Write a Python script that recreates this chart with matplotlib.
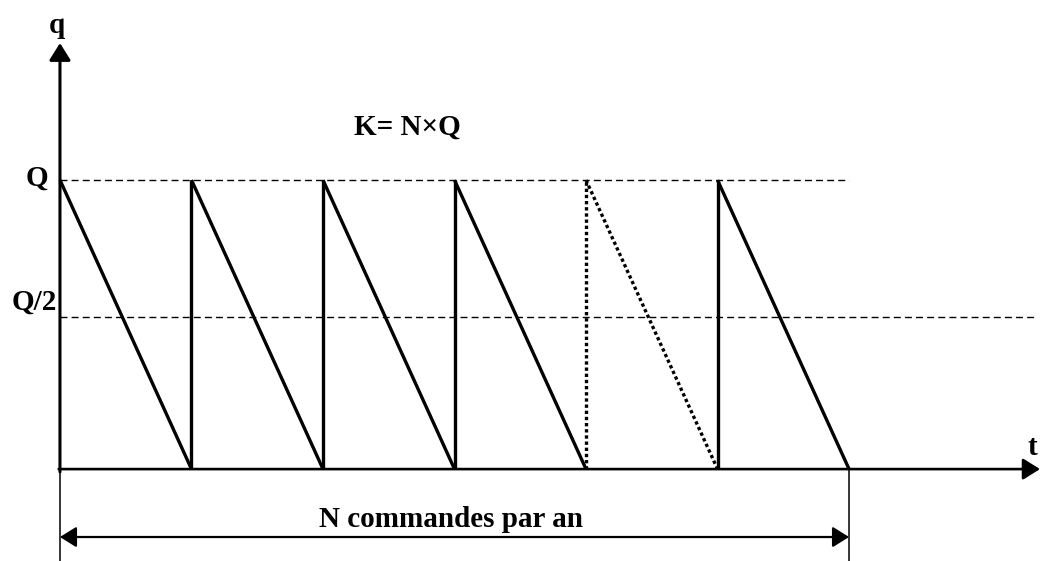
import matplotlib
matplotlib.use("Agg")
import matplotlib.pyplot as plt

# inventory cycle data (time in cycles, stock in units of Q)
order_times = [0, 1, 2, 3, 4, 5]  # start of each order cycle
period_end = 6  # end of the N orders
Q = 1.0
half_level = 0.525  # where the Q/2 line sits in the drawing
dotted_cycle = 4  # the cycle drawn with a dotted line

y_labels = ["Q", "Q/2"]
title_text = "K= N\u00d7Q"
span_text = "N commandes par an"

plt.rcParams["font.family"] = ["Liberation Serif", "DejaVu Serif"]
plt.rcParams["font.weight"] = "bold"

fig = plt.figure(figsize=(10.4, 5.61), dpi=100)
ax = fig.add_axes([0, 0, 1, 1])
ax.set_xlim(-0.456, 7.452)
ax.set_ylim(-0.318, 1.623)
ax.axis("off")

lw_saw = 2.4
dash = (0, (5, 3))
dot = (0, (1, 0.85))

# reference levels
ax.plot([0, period_end], [Q, Q], color="black", lw=1.0, ls=dash)
ax.plot([0, 7.41], [half_level, half_level], color="black", lw=1.0, ls=dash)

# sawtooth
for i, t in enumerate(order_times):
    style = dot if i == dotted_cycle else "-"
    t_next = order_times[i + 1] if i + 1 < len(order_times) else period_end
    if i > 0:
        ax.plot([t, t], [0, Q], color="black", lw=lw_saw, ls=style,
                solid_capstyle="butt")
    ax.plot([t, t_next], [Q, 0], color="black", lw=lw_saw, ls=style,
            solid_capstyle="butt")

# axes with arrows
arrow = dict(arrowstyle="-|>,head_length=0.4,head_width=0.25", color="black",
             lw=2.2, shrinkA=0, shrinkB=0, mutation_scale=26)
ax.annotate("", xy=(0, 1.474), xytext=(0, -0.01), arrowprops=arrow)
arrow_x = dict(arrow, lw=1.9)
ax.annotate("", xy=(7.452, 0), xytext=(-0.01, 0), arrowprops=arrow_x)

# span of the N orders
ax.plot([0, 0], [0, -0.318], color="black", lw=1.1)
ax.plot([period_end, period_end], [0, -0.318], color="black", lw=1.1)
span = dict(arrowstyle="<|-|>,head_length=0.4,head_width=0.25", color="black",
            lw=1.6, shrinkA=0, shrinkB=0, mutation_scale=25)
ax.annotate("", xy=(0, -0.235), xytext=(period_end, -0.235), arrowprops=span)

fs = 21
ax.text(2.97, -0.175, span_text, ha="center", va="center",
        fontsize=fs, fontweight="bold")
ax.text(2.64, 1.183, title_text, ha="center", va="center", fontsize=fs,
        fontweight="bold")
ax.text(-0.175, Q + 0.007, y_labels[0], ha="center", va="center",
        fontsize=fs, fontweight="bold")
ax.text(-0.02, half_level + 0.005, y_labels[1], ha="right", va="bottom",
        fontsize=fs, fontweight="bold")
ax.text(-0.023, 1.536, "q", ha="center", va="center", fontsize=fs,
        fontweight="bold")
ax.text(7.39, 0.076, "t", ha="center", va="center", fontsize=fs,
        fontweight="bold")

fig.savefig("out.png", dpi=100)
